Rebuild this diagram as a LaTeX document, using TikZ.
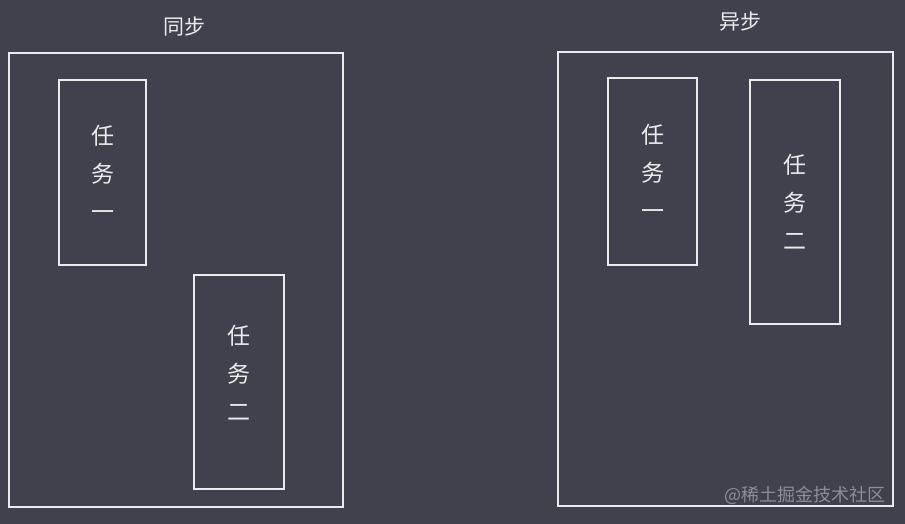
\documentclass[tikz,border=0pt]{standalone}
\usepackage{fontspec}
\newfontfamily\cjk{Noto Sans CJK SC}
\usetikzlibrary{positioning}
\definecolor{board}{RGB}{64,65,77}
\definecolor{chalk}{RGB}{235,235,238}
\definecolor{mark}{RGB}{140,141,150}
\tikzset{
  frame/.style={draw=chalk,line width=1.3pt,rectangle,inner sep=0pt},
  task/.style={draw=chalk,line width=1.3pt,rectangle,inner sep=0pt,text=chalk,
    align=center,font=\cjk\fontsize{23}{38}\selectfont},
  words/.style={text=chalk,align=center,font=\cjk\fontsize{23}{38}\selectfont},
  title/.style={text=chalk,font=\cjk\fontsize{21}{24}\selectfont}
}
\begin{document}
\begin{tikzpicture}[x=1pt,y=-1pt]
    \fill[board](0,0) rectangle (905,524);
    \useasboundingbox (0,0) rectangle (905,524);

    \node [title](s)at(184,27){同步};
    \node [frame,minimum width=334pt,minimum height=454pt](sf)at(176,280){};
    \node [task,minimum width=87pt,minimum height=185pt](s1)at(102.5,172.5){任\\务\\一};
    \node [task,minimum width=90pt,minimum height=214pt](s2)at(239,382){};
    \node [words](s2t)at(239,373){任\\务\\二};

    \node [title](a)at(740,22){异步};
    \node [frame,minimum width=335pt,minimum height=454pt](af)at(725.5,279){};
    \node [task,minimum width=89pt,minimum height=187pt](a1)at(652.5,171.5){任\\务\\一};
    \node [task,minimum width=90pt,minimum height=244pt](a2)at(795,202){任\\务\\二};

    \node [anchor=east,text=mark,font=\cjk\fontsize{18}{20}\selectfont](w)at(889,495){@稀土掘金技术社区};
\end{tikzpicture}
\end{document}
